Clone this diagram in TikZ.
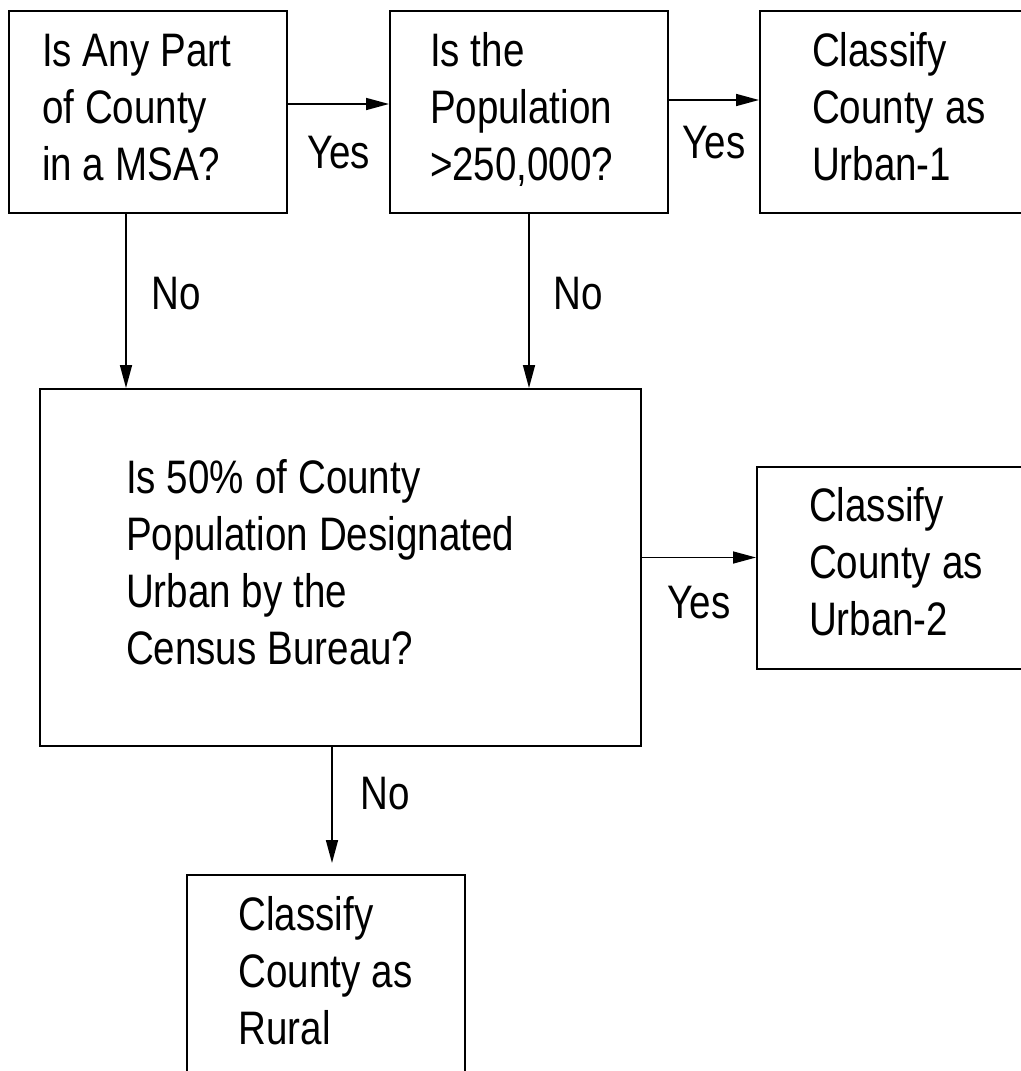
\documentclass[tikz,border=0pt]{standalone}
\usepackage{fontspec}
\setmainfont{Liberation Sans}[FakeStretch=0.82]
\usetikzlibrary{arrows.meta,positioning}

\begin{document}
\begin{tikzpicture}[x=0.5pt,y=-0.5pt,>={Triangle[length=11.5pt,width=6pt]},
    box/.style={draw,line width=1pt,align=left,inner ysep=0pt,minimum height=101pt,
      font=\fontsize{23.5}{28.5}\selectfont,
      execute at begin node={\spaceskip=5.5pt\relax\strut},
      execute at end node=\strut},
    result/.style={box,text width=87pt,inner xsep=26pt},
    lbl/.style={inner sep=0pt,font=\fontsize{23.5}{28.5}\selectfont},
    flow/.style={->,line width=0.8pt}]

  \useasboundingbox (0,0) rectangle (1021,1071);
  \clip (0,0) rectangle (1021,1071);

  \node[box,text width=106pt,inner xsep=16.5pt] (msa) at (148,112)
    {Is Any Part\\of County\\in a MSA?};
  \node[box,text width=99pt,inner xsep=20pt] (pop) [right=50.5pt of msa]
    {Is the\\Population\\>250,000?};
  \node[result] (urb1) [right=45pt of pop] {Classify\\County as\\Urban-1};
  \node[box,text width=214.5pt,inner xsep=43pt,minimum height=178.5pt] (census)
    at (340.5,567.5)
    {Is 50\% of County\\Population Designated\\Urban by the\\Census Bureau?};
  \node[result] (urb2) [right=57pt of census] {Classify\\County as\\Urban-2};
  \node[result] (rural) [below=63.5pt of census,xshift=-7.5pt]
    {Classify\\County as\\Rural};

  \draw[flow] ([yshift=4pt]msa.east) -- ([yshift=4pt]pop.west)
    node[lbl,midway,below=15.5pt] {Yes};
  \draw[flow] ([yshift=6pt]pop.east) -- ([yshift=6pt]urb1.west)
    node[lbl,midway,below=12.5pt] {Yes};
  \draw[flow] ([xshift=-11pt]msa.south) -- ([xshift=-11pt]msa.south |- census.north)
    node[lbl,pos=0.46,right=12.5pt] {No};
  \draw[flow] (pop.south) -- (pop.south |- census.north)
    node[lbl,pos=0.46,right=12pt] {No};
  \draw[flow] ([yshift=5pt]census.east) -- ([yshift=5pt]census.east -| urb2.west)
    node[lbl,midway,below=14pt] {Yes};
  \draw[flow,shorten >=5.5pt] ([xshift=-4.25pt]census.south)
    -- ([xshift=-4.25pt]census.south |- rural.north)
    node[lbl,pos=0.37,right=14pt] {No};
\end{tikzpicture}
\end{document}
